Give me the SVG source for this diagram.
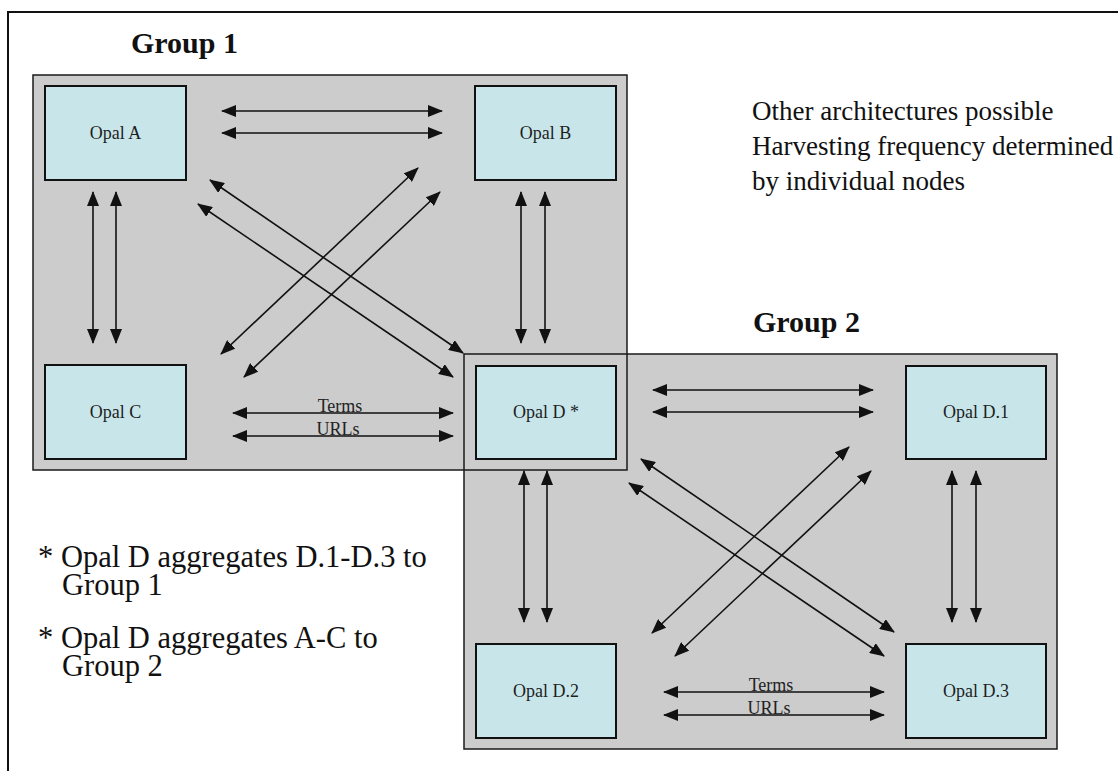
<svg xmlns="http://www.w3.org/2000/svg" width="1118" height="771" viewBox="0 0 1118 771">
<style>
.frame{fill:none;stroke:#111;stroke-width:2}
.grp{fill:#cccccc;stroke:none}
.grpo{fill:none;stroke:#1a1a1a;stroke-width:1.5}
.node{fill:#c8e6ea;stroke:#111;stroke-width:2}
.lbl{font-family:"Liberation Serif",serif;font-size:18px;fill:#1e1e1e;text-anchor:middle}
.gl{font-family:"Liberation Serif",serif;font-size:30px;font-weight:bold;fill:#111}
.note{font-family:"Liberation Serif",serif;fill:#111}
.c{stroke:#111;stroke-width:1.6;fill:none;marker-start:url(#ah);marker-end:url(#ah)}
.tl{font-family:"Liberation Serif",serif;font-size:18px;fill:#222;text-anchor:middle}
</style>
<defs>
<marker id="ah" markerUnits="userSpaceOnUse" markerWidth="15" markerHeight="12" refX="14" refY="6" orient="auto-start-reverse">
<path d="M0,0 L15,6 L0,12 Z" fill="#111"/>
</marker>
<g id="conn-set">
<line x1="222" y1="111" x2="442" y2="111"/>
<line x1="222" y1="133" x2="442" y2="133"/>
<line x1="93" y1="192" x2="93" y2="343"/>
<line x1="116" y1="192" x2="116" y2="343"/>
<line x1="521" y1="192" x2="521" y2="343"/>
<line x1="545" y1="192" x2="545" y2="343"/>
<line x1="233" y1="413" x2="453" y2="413"/>
<line x1="233" y1="436" x2="453" y2="436"/>
<line x1="210" y1="180" x2="463" y2="353"/>
<line x1="198" y1="204" x2="453" y2="377"/>
<line x1="418" y1="168" x2="221" y2="354"/>
<line x1="440" y1="192" x2="244" y2="377"/>
</g>
</defs>
<rect width="1118" height="771" fill="#ffffff"/>
<path class="frame" d="M8,771 V12 H1118"/>
<g id="group1-area"><rect class="grp" x="33" y="75" width="594" height="395"/></g>
<g id="group2-area"><rect class="grp" x="464" y="354" width="593" height="395"/></g>
<rect class="grpo" x="33" y="75" width="594" height="395"/>
<rect class="grpo" x="464" y="354" width="593" height="395"/>
<text class="gl" x="131" y="53">Group 1</text>
<text class="gl" x="753" y="332">Group 2</text>
<g id="connectors">
<g class="c"><use href="#conn-set"/></g>
<g class="c" transform="translate(431,279)"><use href="#conn-set"/></g>
<text class="tl" x="340" y="412">Terms</text>
<text class="tl" x="338" y="435">URLs</text>
<text class="tl" x="771" y="691">Terms</text>
<text class="tl" x="769" y="714">URLs</text>
</g>
<g id="opal-a"><rect class="node" x="45" y="86" width="141" height="94"/><text class="lbl" x="115.5" y="139">Opal A</text></g>
<g id="opal-b"><rect class="node" x="475" y="86" width="141" height="94"/><text class="lbl" x="545.5" y="139">Opal B</text></g>
<g id="opal-c"><rect class="node" x="45" y="365" width="141" height="94"/><text class="lbl" x="115.5" y="418">Opal C</text></g>
<g id="opal-d"><rect class="node" x="476" y="366" width="140" height="93"/><text class="lbl" x="546" y="418">Opal D *</text></g>
<g id="opal-d1"><rect class="node" x="906" y="366" width="140" height="93"/><text class="lbl" x="976" y="418">Opal D.1</text></g>
<g id="opal-d2"><rect class="node" x="476" y="644" width="140" height="94"/><text class="lbl" x="546" y="697">Opal D.2</text></g>
<g id="opal-d3"><rect class="node" x="906" y="644" width="140" height="94"/><text class="lbl" x="976" y="697">Opal D.3</text></g>
<g id="notes-right" class="note" font-size="27">
<text x="752" y="120">Other architectures possible</text>
<text x="752" y="155">Harvesting frequency determined</text>
<text x="752" y="190">by individual nodes</text>
</g>
<g id="notes-left" class="note" font-size="30.5">
<text x="38" y="567">* Opal D aggregates D.1-D.3 to</text>
<text x="62" y="595">Group 1</text>
<text x="38" y="648">* Opal D aggregates A-C to</text>
<text x="62" y="676">Group 2</text>
</g>
</svg>
